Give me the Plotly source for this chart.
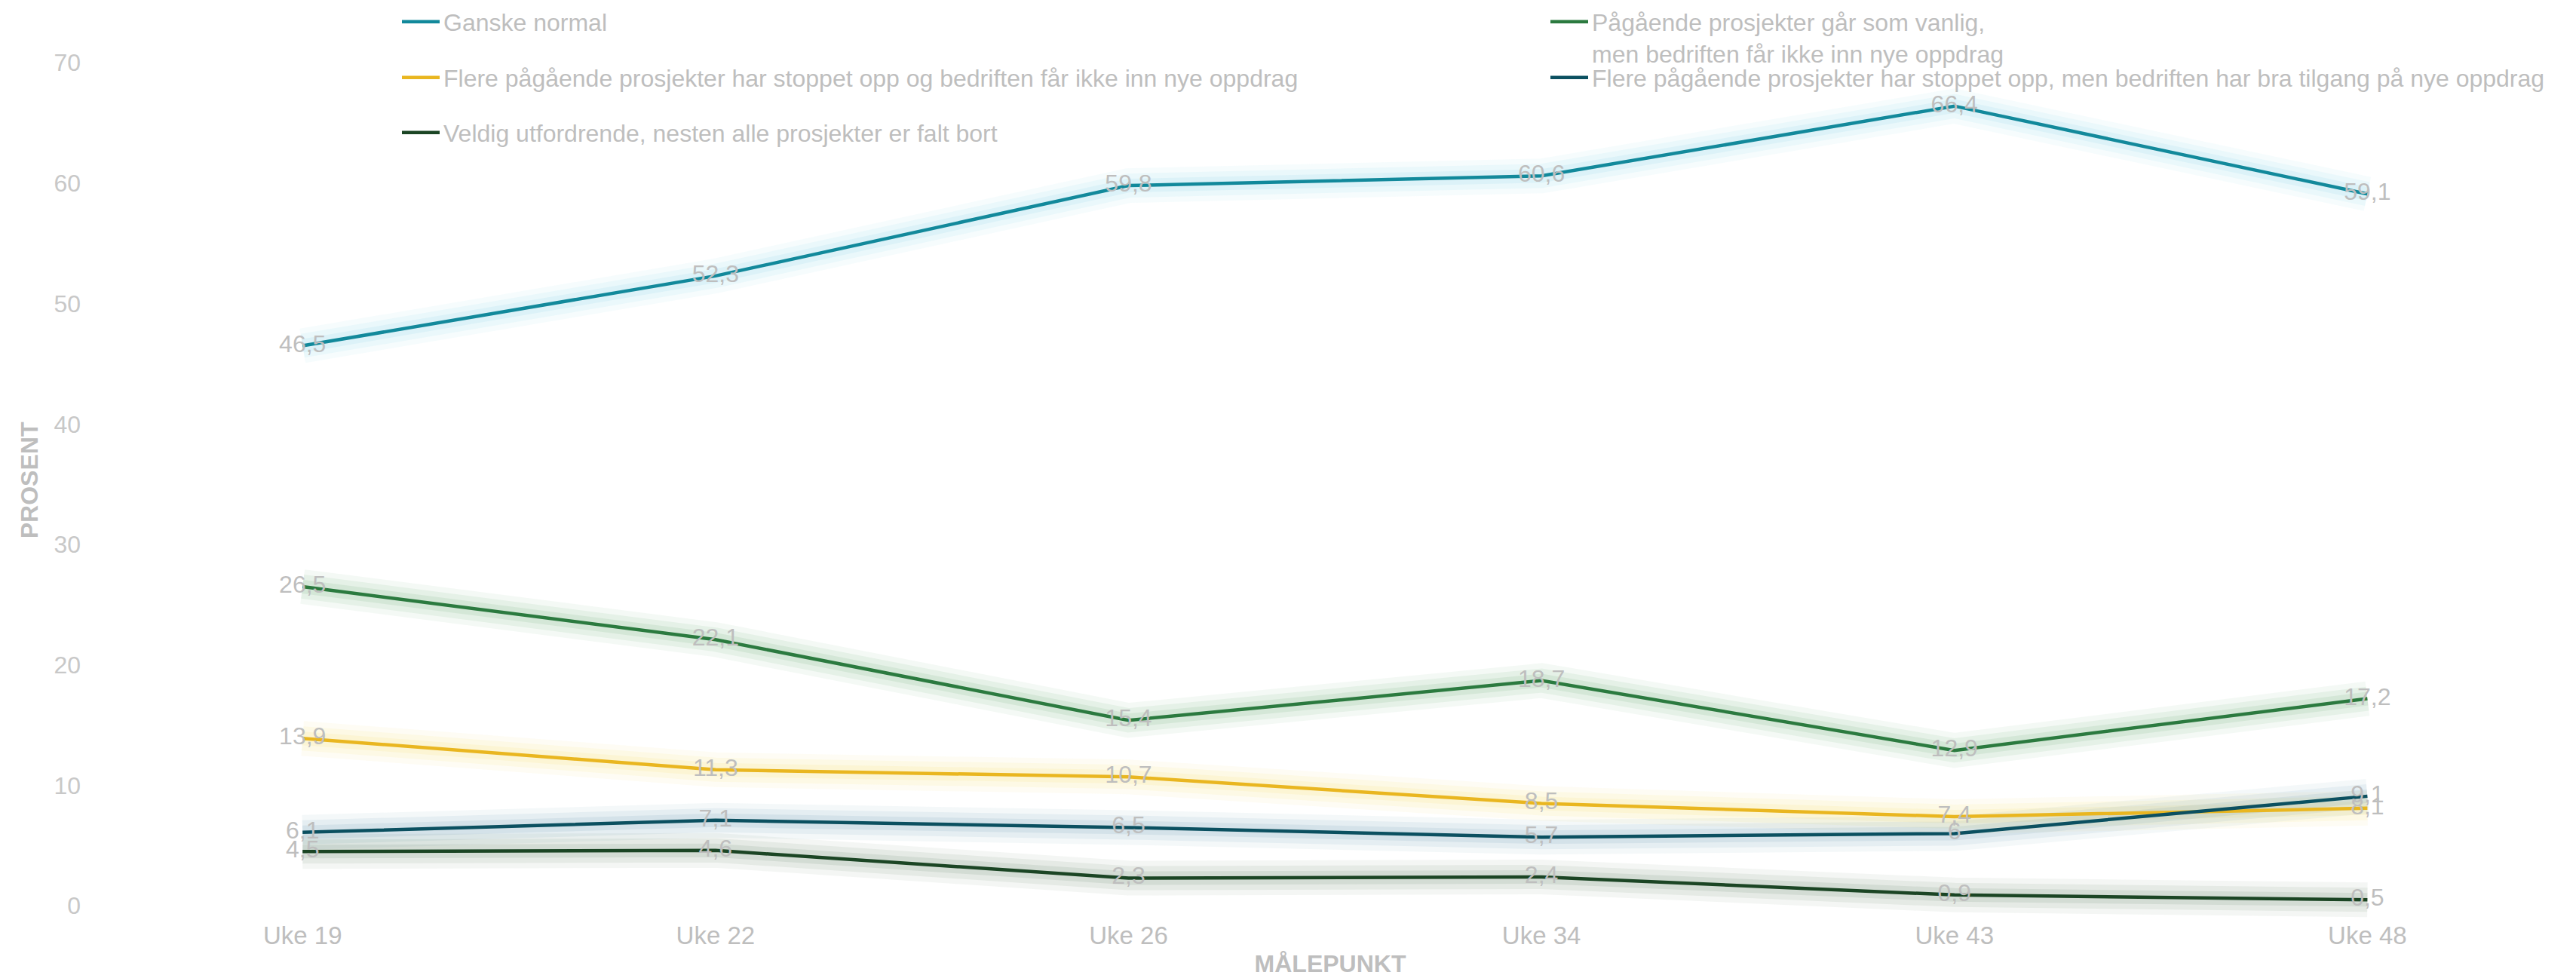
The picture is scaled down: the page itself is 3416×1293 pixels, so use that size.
import plotly.graph_objects as go

categories = ["Uke 19", "Uke 22", "Uke 26", "Uke 34", "Uke 43", "Uke 48"]

ganske_normal = [46.5, 52.3, 59.8, 60.6, 66.4, 59.1]
pagaende_vanlig = [26.5, 22.1, 15.4, 18.7, 12.9, 17.2]
flere_stoppet_ikke = [13.9, 11.3, 10.7, 8.5, 7.4, 8.1]
flere_stoppet_bra = [6.1, 7.1, 6.5, 5.7, 6.0, 9.1]
veldig_utfordrende = [4.5, 4.6, 2.3, 2.4, 0.9, 0.5]

series = [
    ("Ganske normal", ganske_normal, "#12899B", (100, 200, 225), "legend"),
    ("Pågående prosjekter går som vanlig,<br>men bedriften får ikke inn nye oppdrag",
     pagaende_vanlig, "#2B7A3F", (70, 150, 80), "legend2"),
    ("Flere pågående prosjekter har stoppet opp og bedriften får ikke inn nye oppdrag",
     flere_stoppet_ikke, "#E9B620", (245, 212, 70), "legend3"),
    ("Flere pågående prosjekter har stoppet opp, men bedriften har bra tilgang på nye oppdrag",
     flere_stoppet_bra, "#0B5060", (70, 130, 160), "legend4"),
    ("Veldig utfordrende, nesten alle prosjekter er falt bort",
     veldig_utfordrende, "#1B4524", (60, 100, 65), "legend5"),
]

FONT = "Liberation Sans, Arial, sans-serif"
GRAY = "#BEBEBE"

fig = go.Figure()

# glow layers
for name, vals, color, glow, lg in series:
    for w, a in [(46, 0.06), (32, 0.08), (18, 0.10)]:
        fig.add_trace(go.Scatter(
            x=categories, y=vals, mode="lines",
            line=dict(color=f"rgba({glow[0]},{glow[1]},{glow[2]},{a})", width=w),
            showlegend=False, hoverinfo="skip",
        ))

# main lines
for i, (name, vals, color, glow, lg) in enumerate(series):
    labels = [f"{v:g}".replace(".", ",") for v in vals]
    fig.add_trace(go.Scatter(
        x=categories, y=vals, mode="lines+text",
        name=name, text=labels, textposition="middle center",
        textfont=dict(family=FONT, size=32, color=GRAY),
        line=dict(color=color, width=4.5),
        legend=lg,
    ))


def leg(x_px, y_px, valign="middle"):
    return dict(
        xref="container", yref="container", xanchor="left", yanchor="middle",
        x=x_px / 3416, y=1 - y_px / 1293,
        orientation="v", bgcolor="rgba(0,0,0,0)", borderwidth=0,
        font=dict(family=FONT, size=32, color=GRAY),
        itemwidth=50, valign=valign,
    )


fig.update_layout(
    width=3416, height=1293,
    paper_bgcolor="white", plot_bgcolor="white",
    margin=dict(l=132, r=36, t=60, b=83, autoexpand=False),
    font=dict(family=FONT, color=GRAY),
    legend=leg(520, 21),
    legend2=leg(2043, 42, valign="top"),
    legend3=leg(520, 95),
    legend4=leg(2043, 95),
    legend5=leg(520, 168),
    xaxis=dict(
        type="category", range=[-0.477, 5.454],
        showgrid=False, zeroline=False, showline=False, ticks="",
        tickfont=dict(family=FONT, size=33, color=GRAY),
        title=dict(text="<b>MÅLEPUNKT</b>", font=dict(family=FONT, size=32, color=GRAY), standoff=8),
    ),
    yaxis=dict(
        range=[-1.05, 70.95], tickvals=[0, 10, 20, 30, 40, 50, 60, 70],
        showgrid=False, zeroline=False, showline=False, ticks="",
        ticklabelstandoff=32,
        tickfont=dict(family=FONT, size=32, color="#C8C8C8"),
    ),
    annotations=[dict(
        text="<b>PROSENT</b>", textangle=-90, showarrow=False,
        xref="paper", yref="paper", x=-101 / 3248, y=0.505,
        xanchor="center", yanchor="middle",
        font=dict(family=FONT, size=32, color=GRAY),
    )],
    hovermode=False,
)

fig.write_html("out.html")
